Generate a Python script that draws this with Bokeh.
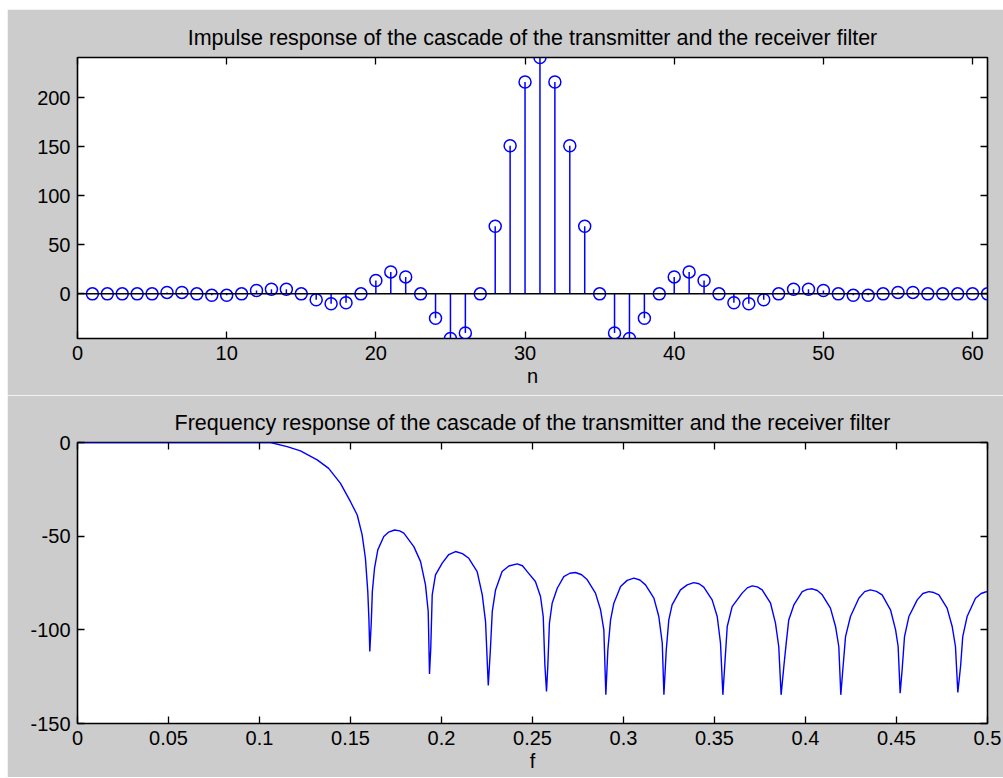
from bokeh.plotting import figure
from bokeh.layouts import column
from bokeh.models import LinearAxis, FixedTicker, CustomJSTickFormatter, Range1d, Span
from bokeh.embed import file_html
from bokeh.resources import INLINE

# ---------------- data ----------------
n_idx = list(range(1, 62))
h_vals = [0, 0, 0, 0, 0, 1.5, 1.5, 0, -1.5, -1.5,
          0, 3.4, 4.8, 4.8, 0, -6, -10, -9, 0, 13.6,
          22.4, 17.3, 0, -24.8, -45.5, -39.8, 0, 69, 151, 216,
          241,
          216, 151, 69, 0, -39.8, -45.5, -24.8, 0, 17.3, 22.4,
          13.6, 0, -9, -10, -6, 0, 4.8, 4.8, 3.4, 0,
          -1.5, -1.5, 0, 1.5, 1.5, 0, 0, 0, 0, 0]

freq = [0.0, 0.05, 0.1, 0.106, 0.1152, 0.1225, 0.1317, 0.138, 0.1445, 0.150, 0.1537, 0.1564, 0.1582, 0.1595, 0.1601, 0.1606,
        0.1614, 0.1620, 0.1632, 0.165, 0.1683, 0.1710, 0.1742, 0.1770, 0.1793, 0.1848, 0.1885, 0.1912, 0.1927, 0.1934,
        0.1941, 0.1949, 0.1967, 0.2004, 0.2040, 0.2077, 0.2115, 0.215, 0.2196, 0.2224, 0.2242, 0.2257,
        0.2269, 0.2279, 0.2297, 0.2333, 0.237, 0.2416, 0.2445, 0.2471, 0.2516, 0.2544, 0.2559, 0.2568, 0.2577,
        0.2584, 0.2593, 0.2608, 0.2636, 0.2672, 0.2705, 0.2736, 0.2770, 0.2801, 0.2846, 0.2874, 0.2892, 0.2903,
        0.2914, 0.2929, 0.2947, 0.2984, 0.3020, 0.3057, 0.3090, 0.3121, 0.3167, 0.3194, 0.3213, 0.3222,
        0.3235, 0.3249, 0.3267, 0.3313, 0.3350, 0.3386, 0.3415, 0.3441, 0.3487, 0.3515, 0.3533, 0.3546,
        0.3557, 0.357, 0.3597, 0.3652, 0.3680, 0.3707, 0.3735, 0.3762, 0.3808, 0.3835, 0.3853, 0.3866,
        0.3881, 0.3894, 0.3908, 0.3936, 0.3982, 0.4010, 0.4037, 0.4065, 0.4092, 0.4137, 0.4165, 0.4183, 0.4194,
        0.4205, 0.422, 0.4247, 0.4293, 0.4325, 0.4357, 0.4390, 0.4421, 0.4467, 0.4495, 0.4509, 0.452,
        0.4531, 0.4544, 0.4568, 0.4614, 0.4645, 0.4678, 0.4705, 0.4733, 0.4778, 0.4806, 0.4824, 0.4837,
        0.4852, 0.4864, 0.4888, 0.4934, 0.4965, 0.4989, 0.5]
mag_db = [0, 0, 0, 0, -2.2, -4.5, -9.3, -13.8, -21.8, -31.6, -38.7, -49.3, -61.8, -79.6, -93.8, -111.6,
          -96.4, -79.6, -67.1, -57.3, -50.2, -47.8, -46.7, -47.2, -48.4, -55.6, -63.6, -76, -90.2, -123.6,
          -109.8, -81.3, -70.7, -64.4, -59.8, -58.2, -59.3, -61.8, -68.9, -81.3, -95.6, -129.7,
          -109.8, -90.2, -78.7, -68.9, -65.9, -64.8, -65.8, -68.9, -74.2, -82.2, -92.9, -118.7, -132.9,
          -119.6, -96.4, -85.8, -77.8, -71.6, -69.8, -69.4, -70.6, -73.3, -80.4, -89.3, -100, -134.7,
          -110.7, -94.7, -85.8, -76.9, -73.6, -72.4, -73.4, -76, -83.1, -92.9, -107.1, -134.7,
          -110.7, -94.7, -86.7, -78.7, -76.0, -74.8, -75.4, -77.2, -84, -92.9, -107.1, -134.7,
          -117.8, -98.2, -87.6, -80.4, -77.6, -76.5, -77.1, -78.7, -85.8, -96.4, -108.9, -134.7,
          -119.6, -107.1, -94.7, -86.7, -79.6, -78.4, -78.1, -79.0, -81.3, -88.4, -98.2, -108.9, -134.7,
          -121.3, -103.6, -92.9, -83.1, -79.6, -78.7, -79.5, -81.3, -89.3, -100, -108.9, -133.8,
          -121.3, -103.6, -92.9, -84, -80.6, -79.6, -80.1, -81.3, -88.4, -98.2, -108.9, -133.4,
          -119.6, -103.6, -92.9, -83.1, -80.6, -79.8, -79.6]

top_xticks = [0, 10, 20, 30, 40, 50, 60]
top_yticks = [0, 50, 100, 150, 200]
bot_xticks = [0, 0.05, 0.1, 0.15, 0.2, 0.25, 0.3, 0.35, 0.4, 0.45, 0.5]
bot_yticks = [-150, -100, -50, 0]

title1 = "Impulse response of the cascade of the transmitter and the receiver filter"
title2 = "Frequency response of the cascade of the transmitter and the receiver filter"

GREY = "#cccccc"
BLUE = "#0000ff"
FONT = "Liberation Sans"
TICK_FS = "20px"
TITLE_FS = "21.5px"

blank = CustomJSTickFormatter(code="return ''")


def num_fmt():
    return CustomJSTickFormatter(code="return String(Math.round(tick*100)/100)")


def style_axis(ax, ticks, labels=True):
    ax.ticker = FixedTicker(ticks=ticks)
    ax.major_tick_in = 7
    ax.major_tick_out = 0
    ax.minor_tick_line_color = None
    ax.major_tick_line_color = "black"
    ax.major_tick_line_width = 1.3
    ax.axis_line_color = None
    ax.major_label_text_font = FONT
    ax.major_label_text_font_size = TICK_FS
    ax.major_label_text_color = "black"
    ax.major_label_standoff = 7
    ax.axis_label_text_font = FONT
    ax.axis_label_text_font_size = TICK_FS
    ax.axis_label_text_font_style = "normal"
    ax.axis_label_text_color = "black"
    ax.axis_label_standoff = 2
    if not labels:
        ax.formatter = blank
        ax.major_label_standoff = 0
    else:
        ax.formatter = num_fmt()


def make_fig(title, xr, yr, xticks, yticks, xlabel, top=48, bottom=57):
    p = figure(output_backend="svg", toolbar_location=None,
               frame_width=910, frame_height=281,
               min_border_left=70, min_border_right=16,
               min_border_top=top, min_border_bottom=bottom,
               x_range=Range1d(*xr), y_range=Range1d(*yr),
               x_axis_location=None, y_axis_location=None,
               title=title)
    p.background_fill_color = "white"
    p.border_fill_color = GREY
    p.outline_line_color = "black"
    p.outline_line_width = 1.6
    p.grid.visible = False
    p.title.align = "center"
    p.title.text_font = FONT
    p.title.text_font_size = TITLE_FS
    p.title.text_font_style = "normal"
    p.title.text_color = "black"
    p.title.standoff = 16

    bx = LinearAxis(axis_label=xlabel)
    style_axis(bx, xticks, True)
    p.add_layout(bx, "below")
    ly = LinearAxis()
    style_axis(ly, yticks, True)
    p.add_layout(ly, "left")
    tx = LinearAxis()
    style_axis(tx, xticks, False)
    p.add_layout(tx, "above")
    ry = LinearAxis()
    style_axis(ry, yticks, False)
    p.add_layout(ry, "right")
    return p


p1 = make_fig(title1, (0, 61), (min(h_vals), max(h_vals)), top_xticks, top_yticks, "n",
              top=48, bottom=57)
p1.segment(x0=n_idx, y0=[0] * len(n_idx), x1=n_idx, y1=h_vals, line_color=BLUE, line_width=1.5)
p1.add_layout(Span(location=0, dimension="width", line_color="black", line_width=1.5))
p1.scatter(n_idx, h_vals, marker="circle", size=12, fill_color=None, line_color=BLUE, line_width=1.5)

p2 = make_fig(title2, (0, 0.5), (-150, 0), bot_xticks, bot_yticks, "f",
              top=47, bottom=54)
p2.line(freq, mag_db, line_color=BLUE, line_width=1.4)

layout = column(p1, p2, spacing=0, margin=(9, 0, 0, 7))

open("out.html", "w").write(file_html(layout, INLINE))
